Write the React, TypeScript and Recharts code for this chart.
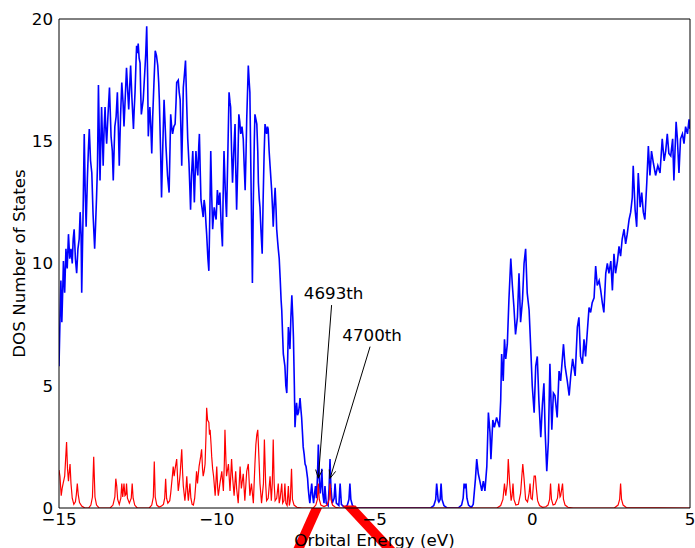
import { LineChart, Line, XAxis, YAxis, ReferenceLine } from "recharts"

const xTicks = [-15, -10, -5, 0, 5]
const yTicks = [0, 5, 10, 15, 20]

// total DOS (blue), [energy eV, states]
const totalDos: [number, number][] = [
  [-15.0, 5.8], [-14.97, 7.6], [-14.94, 9.3], [-14.91, 7.6], [-14.88, 9.0], [-14.86, 10.1], [-14.82, 8.8], [-14.78, 10.6],
  [-14.74, 9.8], [-14.7, 11.2], [-14.66, 10.2], [-14.62, 10.6], [-14.58, 10.0], [-14.55, 11.0], [-14.52, 11.4], [-14.48, 10.2],
  [-14.44, 9.6], [-14.4, 10.6], [-14.36, 11.0], [-14.33, 12.1], [-14.3, 11.2], [-14.28, 8.8], [-14.24, 11.8], [-14.2, 15.3],
  [-14.17, 13.0], [-14.14, 11.5], [-14.1, 13.5], [-14.07, 14.6], [-14.04, 15.5], [-14.0, 14.2], [-13.96, 13.7], [-13.92, 12.0],
  [-13.87, 10.6], [-13.84, 11.6], [-13.81, 12.7], [-13.78, 14.0], [-13.75, 17.3], [-13.72, 15.0], [-13.7, 13.4], [-13.67, 15.2],
  [-13.65, 16.4], [-13.62, 15.0], [-13.6, 14.0], [-13.57, 15.5], [-13.54, 16.4], [-13.52, 15.6], [-13.49, 14.9], [-13.45, 16.0],
  [-13.4, 17.2], [-13.37, 16.0], [-13.35, 15.2], [-13.31, 14.6], [-13.28, 13.4], [-13.25, 14.8], [-13.23, 15.6], [-13.19, 16.0],
  [-13.15, 17.0], [-13.12, 15.6], [-13.09, 14.0], [-13.05, 16.0], [-13.01, 17.4], [-12.97, 16.6], [-12.94, 15.6], [-12.9, 16.8],
  [-12.86, 18.0], [-12.82, 17.0], [-12.79, 16.3], [-12.76, 17.2], [-12.73, 18.1], [-12.69, 16.8], [-12.64, 15.5], [-12.62, 16.2],
  [-12.59, 17.0], [-12.56, 18.2], [-12.54, 18.9], [-12.51, 18.6], [-12.49, 19.0], [-12.46, 18.4], [-12.43, 18.2], [-12.41, 17.0],
  [-12.39, 16.1], [-12.36, 16.4], [-12.33, 16.7], [-12.3, 17.4], [-12.27, 18.1], [-12.25, 18.6], [-12.22, 19.7], [-12.19, 17.6],
  [-12.17, 15.2], [-12.14, 16.0], [-12.12, 16.4], [-12.09, 15.6], [-12.06, 14.5], [-12.03, 16.0], [-11.99, 17.4], [-11.95, 18.7],
  [-11.91, 18.5], [-11.87, 18.1], [-11.84, 17.4], [-11.82, 16.7], [-11.78, 14.6], [-11.75, 12.7], [-11.71, 14.8], [-11.67, 16.7],
  [-11.64, 15.8], [-11.61, 14.8], [-11.56, 13.6], [-11.51, 12.9], [-11.48, 14.8], [-11.46, 16.1], [-11.43, 15.6], [-11.4, 15.3],
  [-11.36, 15.6], [-11.32, 15.7], [-11.29, 16.6], [-11.27, 17.4], [-11.22, 17.5], [-11.19, 17.0], [-11.16, 16.7], [-11.13, 15.2],
  [-11.11, 14.0], [-11.08, 15.8], [-11.06, 17.2], [-11.02, 17.8], [-10.99, 18.3], [-10.95, 16.4], [-10.92, 15.1], [-10.88, 14.1],
  [-10.85, 13.0], [-10.83, 12.2], [-10.8, 13.6], [-10.76, 14.6], [-10.73, 13.4], [-10.71, 12.5], [-10.68, 13.8], [-10.66, 14.6],
  [-10.63, 14.0], [-10.6, 13.6], [-10.57, 14.8], [-10.55, 15.3], [-10.52, 13.6], [-10.5, 12.6], [-10.46, 12.2], [-10.43, 11.9],
  [-10.4, 12.6], [-10.37, 12.3], [-10.34, 11.6], [-10.32, 11.2], [-10.28, 10.2], [-10.25, 9.7], [-10.22, 12.0], [-10.19, 14.6],
  [-10.16, 12.8], [-10.13, 11.4], [-10.1, 12.0], [-10.08, 12.3], [-10.05, 12.0], [-10.02, 11.8], [-9.98, 13.0], [-9.94, 12.4],
  [-9.9, 12.9], [-9.86, 11.6], [-9.82, 10.7], [-9.8, 12.6], [-9.77, 14.6], [-9.73, 13.0], [-9.69, 11.9], [-9.65, 14.4],
  [-9.61, 17.0], [-9.58, 16.6], [-9.56, 16.4], [-9.53, 14.6], [-9.5, 13.3], [-9.46, 14.6], [-9.42, 15.7], [-9.4, 14.0],
  [-9.37, 12.2], [-9.33, 14.2], [-9.3, 16.1], [-9.27, 15.8], [-9.24, 15.3], [-9.2, 15.6], [-9.16, 15.1], [-9.13, 14.0],
  [-9.1, 13.0], [-9.07, 14.6], [-9.05, 15.9], [-9.02, 17.2], [-9.0, 18.1], [-8.97, 17.4], [-8.95, 17.0], [-8.92, 14.0],
  [-8.89, 11.0], [-8.87, 9.2], [-8.84, 12.6], [-8.81, 15.0], [-8.79, 16.1], [-8.76, 15.9], [-8.73, 15.7], [-8.7, 14.6],
  [-8.68, 13.3], [-8.65, 12.6], [-8.63, 12.3], [-8.6, 11.4], [-8.56, 10.4], [-8.53, 12.6], [-8.5, 14.4], [-8.47, 15.7],
  [-8.44, 15.5], [-8.42, 15.3], [-8.39, 15.6], [-8.37, 15.5], [-8.34, 14.6], [-8.31, 14.0], [-8.28, 13.4], [-8.26, 13.0],
  [-8.23, 12.2], [-8.21, 11.5], [-8.18, 12.4], [-8.15, 13.1], [-8.12, 12.2], [-8.1, 11.4], [-8.07, 10.9], [-8.05, 10.6],
  [-8.02, 10.2], [-7.99, 9.4], [-7.96, 8.5], [-7.94, 8.1], [-7.91, 7.0], [-7.89, 6.3], [-7.86, 6.0], [-7.84, 5.8],
  [-7.81, 5.0], [-7.78, 4.7], [-7.75, 6.2], [-7.73, 7.4], [-7.7, 6.9], [-7.68, 6.5], [-7.65, 7.8], [-7.62, 8.7],
  [-7.59, 7.8], [-7.57, 7.0], [-7.54, 5.0], [-7.52, 3.3], [-7.49, 4.0], [-7.47, 4.3], [-7.44, 3.8], [-7.41, 3.9],
  [-7.38, 4.2], [-7.36, 4.5], [-7.33, 4.0], [-7.31, 3.7], [-7.28, 3.0], [-7.26, 2.5], [-7.23, 2.2], [-7.2, 1.8],
  [-7.17, 1.7], [-7.15, 1.5], [-7.12, 1.2], [-7.1, 0.8], [-7.07, 0.4], [-7.05, 0.2], [-7.02, 0.6], [-6.99, 1.0],
  [-6.96, 0.5], [-6.93, 0.2], [-6.9, 0.6], [-6.87, 0.9], [-6.84, 0.4], [-6.81, 1.2], [-6.78, 2.6], [-6.75, 1.2],
  [-6.72, 0.6], [-6.69, 1.0], [-6.67, 1.6], [-6.64, 0.6], [-6.6, 0.2], [-6.57, 0.9], [-6.53, 0.2], [-6.47, 0.1],
  [-6.44, 0.8], [-6.41, 2.0], [-6.38, 0.8], [-6.34, 0.2], [-6.28, 0.4], [-6.25, 1.0], [-6.21, 0.2], [-6.13, 0.1],
  [-6.09, 1.0], [-6.05, 0.15], [-5.95, 0.02], [-5.86, 0.12], [-5.81, 0.35], [-5.78, 1.0], [-5.75, 0.35], [-5.7, 0.1],
  [-5.6, 0.0], [-3.22, 0.0], [-3.12, 0.1], [-3.06, 0.35], [-3.03, 1.0], [-2.98, 0.3], [-2.96, 0.25], [-2.92, 0.35],
  [-2.89, 1.0], [-2.86, 0.35], [-2.8, 0.1], [-2.7, 0.0], [-2.35, 0.0], [-2.24, 0.12], [-2.19, 0.4], [-2.16, 1.0],
  [-2.13, 0.8], [-2.1, 1.0], [-2.07, 0.4], [-2.02, 0.12], [-1.93, 0.02], [-1.87, 0.15], [-1.8, 1.2], [-1.76, 2.0],
  [-1.71, 1.4], [-1.66, 1.1], [-1.6, 0.7], [-1.55, 1.1], [-1.5, 0.7], [-1.44, 1.7], [-1.39, 3.9], [-1.34, 3.1],
  [-1.31, 2.0], [-1.25, 3.6], [-1.2, 3.3], [-1.13, 3.7], [-1.04, 3.3], [-1.0, 4.4], [-0.97, 6.3], [-0.92, 5.2],
  [-0.88, 6.9], [-0.84, 6.1], [-0.79, 6.7], [-0.74, 8.5], [-0.68, 10.2], [-0.63, 9.1], [-0.58, 8.2], [-0.53, 7.1],
  [-0.47, 7.8], [-0.42, 9.6], [-0.37, 7.6], [-0.31, 8.5], [-0.26, 10.0], [-0.21, 10.6], [-0.16, 8.8], [-0.1, 8.1],
  [-0.05, 6.6], [0.0, 5.0], [0.06, 3.9], [0.11, 5.8], [0.16, 6.2], [0.21, 4.4], [0.27, 2.9], [0.32, 4.2],
  [0.37, 5.1], [0.41, 3.1], [0.46, 1.5], [0.51, 2.7], [0.56, 5.9], [0.62, 3.2], [0.67, 4.7], [0.72, 4.6],
  [0.79, 3.7], [0.85, 5.6], [0.9, 5.2], [0.99, 6.7], [1.04, 5.8], [1.11, 5.2], [1.17, 4.6], [1.22, 5.4],
  [1.28, 6.1], [1.36, 5.4], [1.43, 7.4], [1.48, 7.8], [1.53, 6.2], [1.59, 5.9], [1.64, 6.9], [1.69, 6.2],
  [1.75, 7.3], [1.8, 8.2], [1.85, 8.0], [1.9, 8.4], [1.96, 8.6], [2.01, 9.9], [2.06, 9.1], [2.12, 9.3],
  [2.17, 8.9], [2.22, 8.4], [2.27, 8.0], [2.33, 9.6], [2.38, 10.0], [2.43, 9.6], [2.49, 10.1], [2.54, 8.9],
  [2.59, 10.4], [2.64, 9.6], [2.7, 10.1], [2.75, 10.7], [2.8, 10.3], [2.85, 11.0], [2.91, 11.4], [2.96, 10.8],
  [3.01, 11.2], [3.07, 11.8], [3.12, 12.1], [3.17, 12.7], [3.2, 14.0], [3.26, 12.2], [3.31, 11.5], [3.36, 13.7],
  [3.42, 12.3], [3.47, 12.9], [3.52, 12.1], [3.57, 11.8], [3.63, 13.3], [3.68, 14.8], [3.73, 13.6], [3.78, 14.6],
  [3.84, 14.1], [3.91, 13.6], [3.98, 14.0], [4.05, 13.7], [4.12, 15.1], [4.18, 14.2], [4.23, 14.6], [4.28, 15.3],
  [4.33, 14.5], [4.39, 14.4], [4.45, 15.1], [4.49, 13.4], [4.56, 15.8], [4.6, 15.1], [4.65, 13.7], [4.7, 15.1],
  [4.76, 15.3], [4.81, 14.9], [4.86, 15.6], [4.92, 15.3], [4.97, 15.9], [5.0, 15.5],
]

// projected DOS (red)
const orbitalDos: [number, number][] = [
  [-15.0, 1.55], [-14.97, 1.3], [-14.93, 0.5], [-14.9, 0.8], [-14.87, 1.0], [-14.82, 1.3], [-14.79, 2.0], [-14.76, 2.7],
  [-14.73, 1.6], [-14.7, 1.1], [-14.68, 1.4], [-14.65, 1.8], [-14.62, 1.0], [-14.58, 0.4], [-14.53, 0.15], [-14.48, 0.25],
  [-14.45, 0.55], [-14.42, 1.0], [-14.39, 0.55], [-14.35, 0.22], [-14.28, 0.08], [-14.18, 0.0], [-14.06, 0.0], [-13.99, 0.12],
  [-13.94, 0.45], [-13.9, 2.1], [-13.86, 0.45], [-13.81, 0.12], [-13.73, 0.0], [-13.38, 0.0], [-13.29, 0.12], [-13.23, 0.45],
  [-13.2, 1.2], [-13.17, 0.9], [-13.14, 0.35], [-13.09, 0.15], [-13.04, 0.4], [-13.01, 1.0], [-12.98, 0.45], [-12.94, 1.0],
  [-12.91, 0.5], [-12.88, 0.55], [-12.86, 1.0], [-12.83, 0.4], [-12.77, 0.2], [-12.71, 0.4], [-12.68, 1.0], [-12.65, 0.4],
  [-12.6, 0.12], [-12.52, 0.0], [-12.14, 0.0], [-12.06, 0.12], [-12.01, 0.45], [-11.98, 1.9], [-11.95, 0.45], [-11.9, 0.12],
  [-11.83, 0.04], [-11.75, 0.08], [-11.69, 0.15], [-11.65, 0.4], [-11.62, 1.2], [-11.59, 0.4], [-11.55, 0.2], [-11.49, 0.3],
  [-11.46, 0.6], [-11.43, 1.0], [-11.4, 1.4], [-11.38, 1.7], [-11.35, 1.3], [-11.32, 1.6], [-11.27, 2.0], [-11.24, 1.2],
  [-11.22, 0.7], [-11.19, 1.0], [-11.16, 1.4], [-11.11, 2.4], [-11.08, 1.4], [-11.06, 0.9], [-11.01, 0.3], [-10.98, 0.7],
  [-10.95, 1.3], [-10.92, 0.6], [-10.9, 0.3], [-10.85, 1.0], [-10.82, 0.4], [-10.78, 0.15], [-10.74, 0.12], [-10.7, 0.4],
  [-10.67, 0.9], [-10.64, 1.5], [-10.61, 1.0], [-10.59, 1.3], [-10.56, 1.7], [-10.51, 2.1], [-10.48, 2.4], [-10.45, 1.6],
  [-10.43, 1.3], [-10.4, 1.5], [-10.37, 1.8], [-10.34, 3.0], [-10.32, 4.1], [-10.29, 3.6], [-10.25, 3.5], [-10.23, 3.0],
  [-10.21, 3.2], [-10.18, 2.6], [-10.16, 2.1], [-10.13, 1.6], [-10.1, 1.3], [-10.05, 0.5], [-10.0, 1.7], [-9.97, 0.8],
  [-9.95, 0.5], [-9.9, 1.0], [-9.84, 1.5], [-9.79, 0.7], [-9.76, 1.8], [-9.74, 3.2], [-9.71, 2.0], [-9.69, 1.3],
  [-9.63, 1.8], [-9.58, 0.7], [-9.53, 2.0], [-9.5, 1.3], [-9.45, 0.5], [-9.4, 1.5], [-9.37, 0.8], [-9.32, 0.2],
  [-9.26, 1.7], [-9.22, 0.8], [-9.16, 1.4], [-9.11, 0.3], [-9.05, 1.5], [-9.0, 1.8], [-8.95, 0.5], [-8.9, 1.0],
  [-8.84, 0.2], [-8.79, 1.8], [-8.76, 2.6], [-8.73, 3.0], [-8.7, 3.2], [-8.68, 2.6], [-8.63, 1.0], [-8.58, 0.2],
  [-8.52, 1.0], [-8.49, 2.8], [-8.45, 1.0], [-8.42, 0.3], [-8.37, 0.4], [-8.31, 1.3], [-8.27, 0.3], [-8.24, 1.0],
  [-8.21, 2.8], [-8.18, 1.0], [-8.15, 0.3], [-8.1, 0.4], [-8.05, 1.0], [-8.02, 0.2], [-7.99, 0.4], [-7.94, 1.0],
  [-7.91, 0.2], [-7.87, 0.3], [-7.84, 1.0], [-7.81, 0.2], [-7.77, 0.1], [-7.73, 0.9], [-7.7, 0.1], [-7.67, 0.3],
  [-7.63, 1.6], [-7.6, 0.35], [-7.55, 0.12], [-7.46, 0.03], [-7.3, 0.0], [-6.94, 0.0], [-6.86, 0.12], [-6.81, 0.35],
  [-6.78, 1.0], [-6.75, 0.35], [-6.7, 0.12], [-6.6, 0.06], [-6.5, 0.12], [-6.44, 0.35], [-6.41, 1.0], [-6.38, 0.35],
  [-6.33, 0.12], [-6.24, 0.03], [-6.1, 0.0], [-1.12, 0.0], [-1.0, 0.1], [-0.93, 0.35], [-0.88, 1.0], [-0.84, 0.5],
  [-0.79, 1.0], [-0.76, 2.0], [-0.72, 1.1], [-0.67, 0.3], [-0.64, 0.5], [-0.61, 1.0], [-0.58, 0.35], [-0.52, 0.12],
  [-0.44, 0.15], [-0.37, 0.6], [-0.33, 1.3], [-0.3, 1.8], [-0.26, 1.2], [-0.21, 0.35], [-0.15, 0.25], [-0.1, 0.6],
  [-0.07, 1.0], [-0.04, 0.4], [0.0, 0.35], [0.04, 1.0], [0.06, 1.3], [0.1, 1.3], [0.13, 0.8], [0.17, 0.3],
  [0.23, 0.1], [0.33, 0.03], [0.43, 0.05], [0.5, 0.12], [0.55, 0.35], [0.58, 1.0], [0.61, 0.35], [0.66, 0.12],
  [0.72, 0.15], [0.8, 0.4], [0.84, 1.0], [0.88, 0.45], [0.9, 0.5], [0.96, 1.0], [0.99, 0.35], [1.04, 0.12],
  [1.13, 0.03], [1.3, 0.0], [2.6, 0.0], [2.72, 0.12], [2.77, 0.35], [2.8, 1.0], [2.83, 0.35], [2.88, 0.12],
  [2.98, 0.02], [5.0, 0.0],
]

// arrow annotations: text end -> pointed state
const notes = [
  { text: "4693th", from: { x: -6.36, y: 8.3 }, to: { x: -6.78, y: 1.22 } },
  { text: "4700th", from: { x: -5.14, y: 6.6 }, to: { x: -6.41, y: 1.21 } },
]

// thick red marks drawn over the bottom axis
const marks = [
  [{ x: -6.83, y: 0 }, { x: -7.42, y: -1.7 }],
  [{ x: -5.81, y: 0.1 }, { x: -4.51, y: -1.7 }],
]

const font = "'DejaVu Sans', sans-serif"
const fmt = (v: number) => String(v).replace("-", "\u2212")
const noTick = () => <g />

const arrowShape = (text: string) => (p: any) => {
  const { x1, y1, x2, y2 } = p
  const ang = Math.atan2(y1 - y2, x1 - x2)
  const len = 9
  const spread = 0.38
  const a = { x: x2 + len * Math.cos(ang + spread), y: y2 + len * Math.sin(ang + spread) }
  const b = { x: x2 + len * Math.cos(ang - spread), y: y2 + len * Math.sin(ang - spread) }
  return (
    <g>
      <line x1={x1} y1={y1} x2={x2} y2={y2} stroke="#000" strokeWidth={1} />
      <polyline points={`${a.x},${a.y} ${x2},${y2} ${b.x},${b.y}`} fill="none" stroke="#000" strokeWidth={1} />
      <text x={x1 + 2} y={y1 - 6} textAnchor="middle" fontSize={16.7} fontFamily={font} fill="#000">
        {text}
      </text>
    </g>
  )
}

const bandShape = (p: any) => {
  const { x1, y1, x2, y2 } = p
  const len = Math.hypot(x2 - x1, y2 - y1)
  const h = (4.8 * len) / Math.abs(y2 - y1)
  return <polygon points={`${x1 - h},${y1} ${x1 + h},${y1} ${x2 + h},${y2} ${x2 - h},${y2}`} fill="#ff0000" />
}

const XLabel = ({ viewBox }: any) => (
  <text x={viewBox.x + viewBox.width / 2} y={546} textAnchor="middle" fontSize={16.7} fontFamily={font} fill="#000">
    Orbital Energy (eV)
  </text>
)

const YLabel = ({ viewBox }: any) => {
  const cx = 19
  const cy = viewBox.y + viewBox.height / 2
  return (
    <text x={cx} y={cy} transform={`rotate(-90 ${cx} ${cy})`} textAnchor="middle" dominantBaseline="central" fontSize={16.7} fontFamily={font} fill="#000">
      DOS Number of States
    </text>
  )
}

export default function App() {
  const blue = totalDos.map(([x, y]) => ({ x, y }))
  const red = orbitalDos.map(([x, y]) => ({ x, y }))
  const tickStyle = { fontSize: 16.7, fill: "#000", fontFamily: font }

  return (
    <div style={{ position: "absolute", left: 0, top: 0, width: 695, height: 548, overflow: "hidden", background: "#fff" }}>
      <LineChart width={740} height={548} margin={{ top: 19, right: 50, bottom: 0, left: 0 }} style={{ fontFamily: font }}>
        <XAxis type="number" dataKey="x" domain={[-15, 5]} ticks={xTicks} interval={0} allowDataOverflow height={40}
          tickLine={false} tickSize={0} tickMargin={5} axisLine={{ stroke: "#000" }} tick={tickStyle} tickFormatter={fmt}
          label={{ content: <XLabel /> }} />
        <XAxis xAxisId="bin" type="number" dataKey="x" domain={[-15, 5]} ticks={xTicks} interval={0} orientation="bottom" mirror
          tickSize={5} tickLine={{ stroke: "#000" }} axisLine={false} tick={noTick} />
        <XAxis xAxisId="top" type="number" dataKey="x" domain={[-15, 5]} ticks={xTicks} interval={0} orientation="top" mirror
          tickSize={5} tickLine={{ stroke: "#000" }} axisLine={{ stroke: "#000" }} tick={noTick} />
        <YAxis type="number" domain={[0, 20]} ticks={yTicks} interval={0} allowDataOverflow width={59}
          tickLine={false} tickSize={0} tickMargin={6} axisLine={{ stroke: "#000" }} tick={tickStyle}
          label={{ content: <YLabel /> }} />
        <YAxis yAxisId="lin" type="number" domain={[0, 20]} ticks={yTicks} interval={0} orientation="left" mirror
          tickSize={5} tickLine={{ stroke: "#000" }} axisLine={false} tick={noTick} />
        <YAxis yAxisId="right" type="number" domain={[0, 20]} ticks={yTicks} interval={0} orientation="right" mirror
          tickSize={5} tickLine={{ stroke: "#000" }} axisLine={{ stroke: "#000" }} tick={noTick} />
        <Line data={blue} dataKey="y" type="linear" stroke="#0000ff" strokeWidth={1.6} dot={false} isAnimationActive={false} />
        <Line data={red} dataKey="y" type="linear" stroke="#ff0000" strokeWidth={1.2} dot={false} isAnimationActive={false} />
        {notes.map((n) => (
          <ReferenceLine key={n.text} segment={[n.from, n.to]} ifOverflow="visible" shape={arrowShape(n.text)} />
        ))}
        {marks.map((m, i) => (
          <ReferenceLine key={i} segment={m} ifOverflow="visible" shape={bandShape} />
        ))}
      </LineChart>
    </div>
  )
}
